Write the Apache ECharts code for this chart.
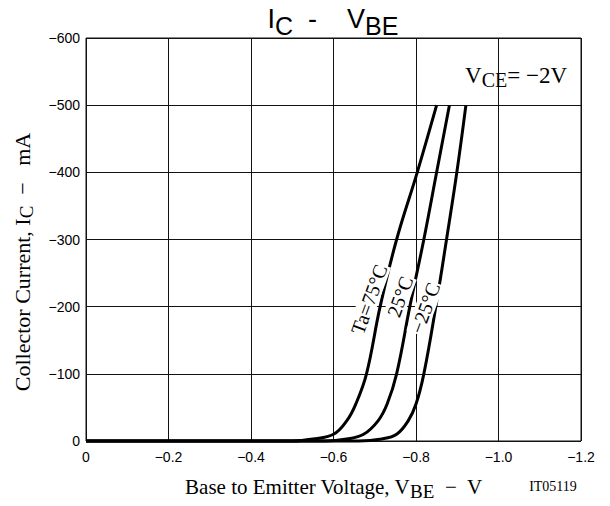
<!DOCTYPE html>
<html>
<head>
<meta charset="utf-8">
<script src="https://cdn.jsdelivr.net/npm/echarts@6/dist/echarts.min.js"></script>
<style>
html,body{margin:0;padding:0;background:#fff;}
#c{width:610px;height:506px;}
</style>
</head>
<body>
<div id="c"></div>
<script>
// ---- data ----
const seriesNames = ['Ta=75°C', '25°C', '−25°C'];
const vbe75  = [0, -0.500, -0.550, -0.600, -0.632, -0.654, -0.680, -0.713, -0.753, -0.803, -0.850];
const ic75   = [0,      0,     -3,    -10,    -30,    -55,   -100,   -200,   -300,   -400,   -500];
const vbe25  = [0, -0.580, -0.632, -0.673, -0.708, -0.730, -0.753, -0.785, -0.819, -0.850, -0.881];
const ic25   = [0,      0,     -3,    -10,    -30,    -55,   -100,   -200,   -300,   -400,   -500];
const vbeM25 = [0, -0.660, -0.717, -0.753, -0.781, -0.800, -0.819, -0.848, -0.874, -0.899, -0.921];
const icM25  = [0,      0,     -3,    -10,    -30,    -55,   -100,   -200,   -300,   -400,   -500];
const xTickLabels = ['0', '−0.2', '−0.4', '−0.6', '−0.8', '−1.0', '−1.2'];
const yTickLabels = ['0', '−100', '−200', '−300', '−400', '−500', '−600'];

const SANS = "'Liberation Sans', Arial, Helvetica, sans-serif";
const SERIF = "'Liberation Serif', 'Times New Roman', 'DejaVu Serif', serif";

function pairs(xs, ys) { return xs.map((x, i) => [x, ys[i]]); }

const chart = echarts.init(document.getElementById('c'), null, {renderer: 'svg'});

const lineSeries = [[vbe75, ic75], [vbe25, ic25], [vbeM25, icM25]].map((d, i) => ({
  name: seriesNames[i],
  type: 'line',
  data: pairs(d[0], d[1]),
  showSymbol: false,
  smooth: 0.4,
  clip: false,
  lineStyle: {color: '#000', width: 3},
  z: 3
}));

chart.setOption({
  animation: false,
  backgroundColor: '#fff',
  title: {
    left: 333, top: 0, padding: 0, textAlign: 'center',
    text: '{m|I}{s|C}{m|  -    V}{s|BE}',
    textStyle: {
      fontWeight: 'normal',
      rich: {
        m: {fontFamily: SANS, fontSize: 27, fontWeight: 'normal', color: '#000', lineHeight: 38, verticalAlign: 'middle'},
        s: {fontFamily: SANS, fontSize: 25, fontWeight: 'normal', color: '#000', lineHeight: 38, verticalAlign: 'bottom'}
      }
    }
  },
  grid: {left: 86, top: 38, width: 495, height: 408, show: true, borderColor: '#111', borderWidth: 1},
  xAxis: {
    type: 'value', min: -1.2, max: 0, interval: 0.2, inverse: true,
    axisLine: {show: false}, axisTick: {show: false},
    splitLine: {show: true, lineStyle: {color: '#111', width: 1}},
    axisLabel: {
      color: '#000', fontFamily: SANS, fontSize: 14, margin: 9,
      formatter: v => xTickLabels[Math.round(-v / 0.2)]
    },
    name: '{m|Base to Emitter Voltage, V}{s|BE}{m|  −  V}',
    nameLocation: 'middle', nameGap: 32,
    nameTextStyle: {
      rich: {
        m: {fontFamily: SERIF, fontSize: 21, color: '#000', lineHeight: 28, verticalAlign: 'middle'},
        s: {fontFamily: SERIF, fontSize: 19, color: '#000', lineHeight: 28, verticalAlign: 'bottom'}
      }
    }
  },
  yAxis: {
    type: 'value', min: -600, max: 0, interval: 100, inverse: true,
    axisLine: {show: false}, axisTick: {show: false},
    splitLine: {show: true, lineStyle: {color: '#111', width: 1}},
    axisLabel: {
      color: '#000', fontFamily: SANS, fontSize: 14, margin: 6,
      formatter: v => yTickLabels[Math.round(-v / 100)]
    }
  },
  series: lineSeries
});

// Text annotations placed in data coordinates through the axes
const curveLabelAnchors = [[-0.686, -211], [-0.761, -215], [-0.822, -198]];
const gfx = curveLabelAnchors.map((a, i) => {
  const p = chart.convertToPixel({gridIndex: 0}, a);
  return {
    type: 'text', x: p[0], y: p[1], rotation: 70 * Math.PI / 180, z: 100,
    style: {
      text: seriesNames[i], fontFamily: SERIF, fontSize: 20, fill: '#000',
      align: 'center', verticalAlign: 'middle',
      backgroundColor: '#fff', padding: [0, 1]
    }
  };
});

gfx.push({
  type: 'text', x: 567, y: 75, z: 100,
  style: {
    text: '{m|V}{s|CE}{m|= −2V}', align: 'right', verticalAlign: 'middle',
    rich: {
      m: {fontFamily: SERIF, fontSize: 23, fill: '#000', lineHeight: 30, verticalAlign: 'middle'},
      s: {fontFamily: SERIF, fontSize: 20, fill: '#000', lineHeight: 30, verticalAlign: 'bottom'}
    }
  }
});

gfx.push({
  type: 'text', x: 22, y: 262, rotation: Math.PI / 2, z: 100,
  style: {
    text: '{m|Collector Current, I}{s|C}{m|  −   mA}', align: 'center', verticalAlign: 'middle',
    rich: {
      m: {fontFamily: SERIF, fontSize: 22, fill: '#000', lineHeight: 28, verticalAlign: 'middle'},
      s: {fontFamily: SERIF, fontSize: 19, fill: '#000', lineHeight: 28, verticalAlign: 'bottom'}
    }
  }
});

gfx.push({
  type: 'text', x: 553, y: 486, z: 100,
  style: {text: 'IT05119', fontFamily: SERIF, fontSize: 14, fill: '#000', align: 'center', verticalAlign: 'middle'}
});

chart.setOption({graphic: gfx});
</script>
</body>
</html>
